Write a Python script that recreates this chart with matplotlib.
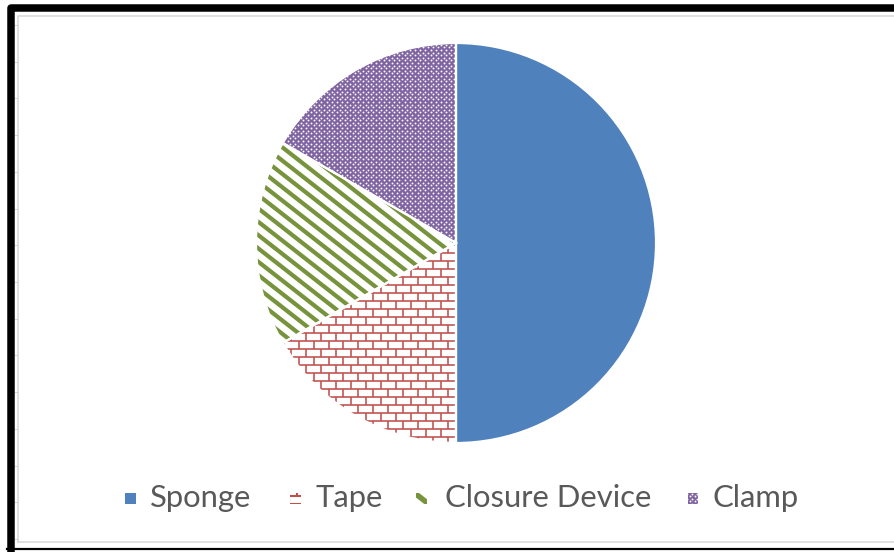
import numpy as np
import matplotlib
matplotlib.use("Agg")
import matplotlib.pyplot as plt
from matplotlib.collections import LineCollection
from matplotlib.patches import Rectangle, Wedge

labels = ["Sponge", "Tape", "Closure Device", "Clamp"]
values = [3, 1, 1, 1]
colors = ["#4F81BD", "#C0504D", "#77933C", "#8064A2"]
fills = ["solid", "brick", "stripe", "dots"]

W, H = 894, 552
fig = plt.figure(figsize=(W / 100, H / 100), dpi=100)
fig.patch.set_facecolor("white")

# full-figure axes in pixel units (y down) for frame + legend
bg = fig.add_axes([0, 0, 1, 1])
bg.set_xlim(0, W)
bg.set_ylim(H, 0)
bg.axis("off")

PT = 72 / 100  # points per pixel

# outer black frame
bg.plot([10.8, 10.8, W + 5], [H + 5, 7.5, 7.5], color="black", lw=7.5 * PT,
        solid_joinstyle="round", solid_capstyle="butt")
bg.plot([7, W], [548.5, 548.5], color="black", lw=2.2 * PT)
# inner light border of the chart area
bg.plot([17.5, 17.5, W + 5], [542, 15.5, 15.5], color="#D9D9D9", lw=1.6 * PT)
bg.plot([17.5, W + 5], [542, 542], color="#D9D9D9", lw=1.6 * PT)
for y in np.linspace(25, 539, 15):
    bg.plot([15, 17.5], [y, y], color="#D4D4D4", lw=1 * PT)


def brick_segs(x0, x1, y0, y1, w, h):
    segs = []
    for i, y in enumerate(np.arange(y0, y1 + h, h)):
        segs.append([(x0, y), (x1, y)])
        off = w / 2 if i % 2 else 0
        for x in np.arange(x0 - w + off, x1 + w, w):
            segs.append([(x, y), (x, y + h)])
    return segs


def stripe_segs(x0, x1, y0, y1, gap, angle):
    th = np.deg2rad(angle)
    d = np.array([np.cos(th), -np.sin(th)])
    n = np.array([np.sin(th), np.cos(th)])
    c = np.array([(x0 + x1) / 2, (y0 + y1) / 2])
    L = max(x1 - x0, y1 - y0)
    k = np.arange(-int(L / gap) - 2, int(L / gap) + 3)
    return [[tuple(c + kk * gap * n - L * d), tuple(c + kk * gap * n + L * d)] for kk in k]


def dot_grid(x0, x1, y0, y1, step):
    xs, ys = [], []
    for i, y in enumerate(np.arange(y0, y1 + step, step)):
        off = step if i % 2 else 0
        for x in np.arange(x0 + off, x1 + step, 2 * step):
            xs.append(x)
            ys.append(y)
    return np.array(xs), np.array(ys)


def fill_pattern(a, patch, kind, color, box, unit, lw_scale=1.0):
    x0, x1, y0, y1 = box
    if kind == "brick":
        lc = LineCollection(brick_segs(x0, x1, y0, y1, 15 * unit, 8 * unit),
                            colors=color, linewidths=1.6 * PT * lw_scale)
        a.add_collection(lc)
        lc.set_clip_path(patch)
    elif kind == "stripe":
        lc = LineCollection(stripe_segs(x0, x1, y0, y1, 10.5 * unit, 38),
                            colors=color, linewidths=4.2 * PT * lw_scale)
        a.add_collection(lc)
        lc.set_clip_path(patch)
    elif kind == "dots":
        xs, ys = dot_grid(x0, x1, y0, y1, 2.6 * unit)
        sc = a.scatter(xs, ys, s=1.8, c="white", linewidths=0, zorder=3)
        sc.set_clip_path(patch)


# pie
cx, cy, r = 456, 243, 200
ax = fig.add_axes([(cx - r) / W, (H - cy - r) / H, 2 * r / W, 2 * r / H])
wedges, _ = ax.pie(values, startangle=90, counterclock=False,
                   colors=colors, radius=1,
                   wedgeprops=dict(edgecolor="none", linewidth=0))
ax.set_xlim(-1, 1)
ax.set_ylim(-1, 1)
ax.axis("off")

unit = 1 / r
for wd, kind, col in zip(wedges, fills, colors):
    if kind in ("brick", "stripe"):
        wd.set_facecolor("white")
    fill_pattern(ax, wd, kind, col, (-1.05, 1.05, -1.05, 1.05), unit)
    ax.add_patch(Wedge(wd.center, wd.r, wd.theta1, wd.theta2, facecolor="none",
                       edgecolor="white", lw=2.2 * PT, zorder=5))

# legend
icon_x = [124, 289, 415, 687]
text_x = [150, 315, 445, 712]
ly = 498
for lab, kind, col, ix, tx in zip(labels, fills, colors, icon_x, text_x):
    iax = fig.add_axes([ix / W, (H - ly - 6) / H, 12 / W, 12 / H])
    iax.set_xlim(0, 12)
    iax.set_ylim(0, 12)
    iax.axis("off")
    box = Rectangle((0.5, 0.5), 11, 11, facecolor=col if kind in ("solid", "dots") else "white",
                    edgecolor="none")
    iax.add_patch(box)
    fill_pattern(iax, box, kind, col, (0, 12, 0, 12), 1, lw_scale=1.3)
    bg.text(tx, ly, lab, fontsize=22.3, color="#595959", va="center", ha="left",
            family="Lato")

fig.savefig("out.png", dpi=100, facecolor="white")
